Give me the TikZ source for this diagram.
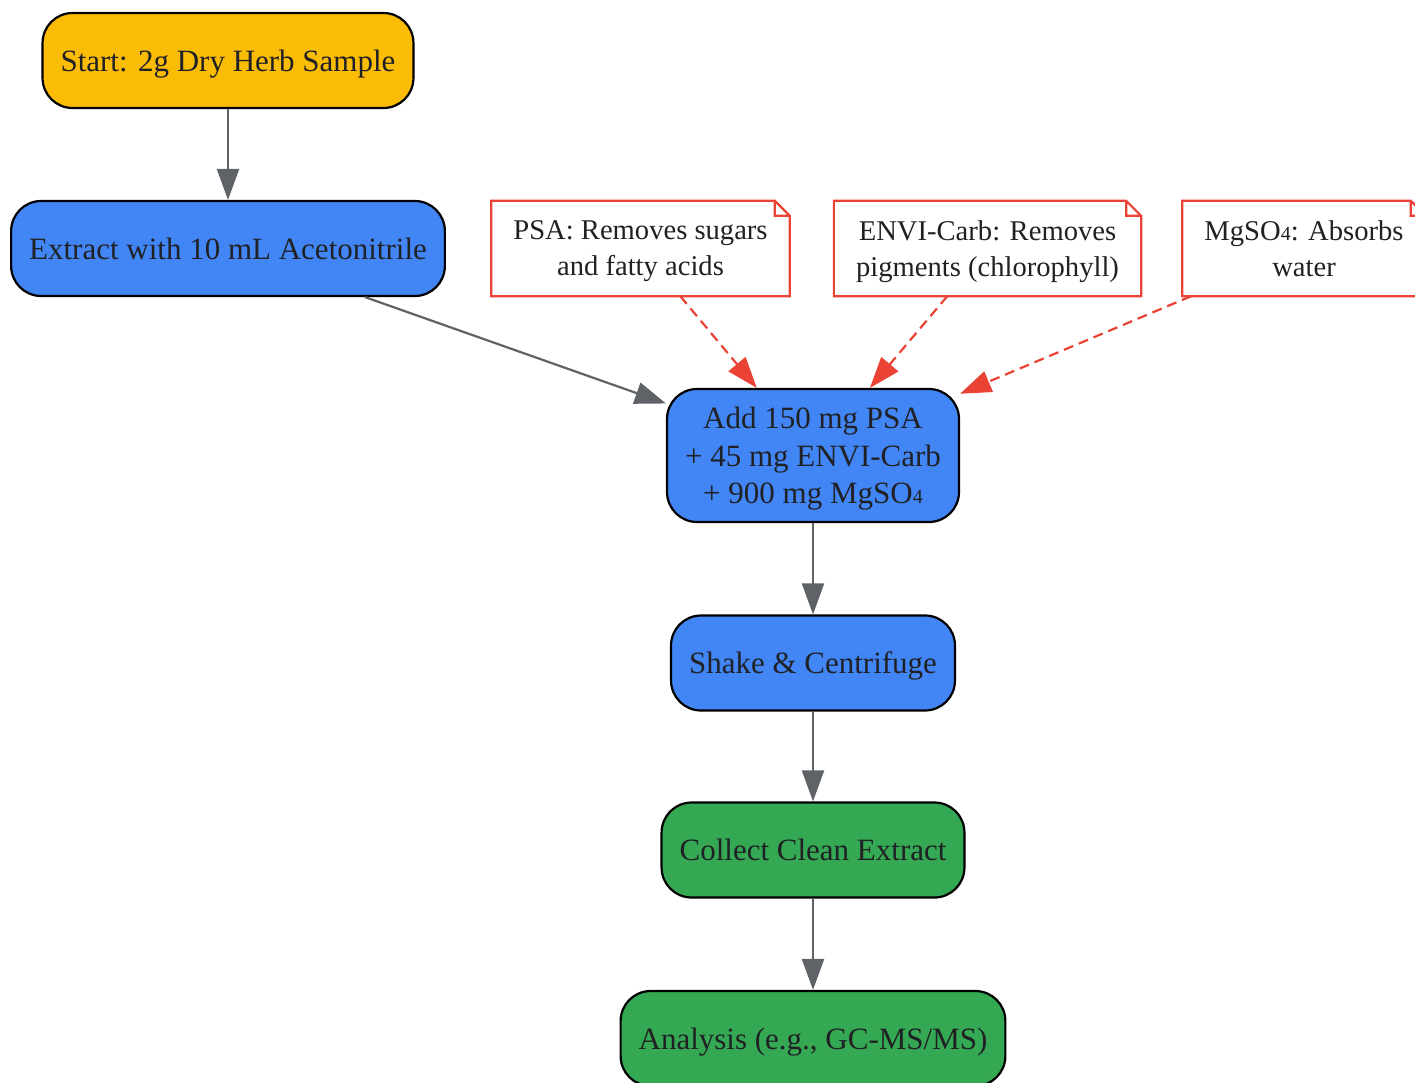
\documentclass[tikz,border=0pt]{standalone}
\usepackage{fontspec}
\setmainfont{Liberation Serif}
\usetikzlibrary{arrows.meta}

\definecolor{startyellow}{HTML}{FBBC05}
\definecolor{stepblue}{HTML}{4285F4}
\definecolor{stepgreen}{HTML}{34A853}
\definecolor{hintred}{HTML}{EA4335}
\definecolor{flowgray}{HTML}{5F6368}
\definecolor{textdark}{HTML}{202124}

\newcommand{\subfour}{{\fontsize{20}{20}\selectfont 4}}

\begin{document}
\begin{tikzpicture}[
		x=1pt, y=-1pt,
		font=\fontsize{31}{37.5}\selectfont,
		stepbox/.style={
			draw=black, line width=2.2pt, rounded corners=30pt,
			text=textdark, align=center, text depth=0pt,
			minimum height=95pt, inner xsep=18pt
		},
		notebox/.style={
			fill=white, text=textdark, align=center, text depth=0pt,
			font=\fontsize{28.6}{36}\selectfont,
			minimum height=95pt, inner xsep=22pt, inner ysep=4pt
		},
		flow/.style={
			draw=flowgray, line width=2.2pt,
			-{Triangle[length=31pt, width=22pt]}
		},
		hint/.style={
			draw=hintred, line width=2.2pt, dash pattern=on 10pt off 6pt,
			-{Triangle[length=31pt, width=22pt]}
		}
		]
		
		\useasboundingbox (0,0) rectangle (1415,1082);
		
		\path 
		(228,60.5) node [stepbox, fill=startyellow] (Start) {Start: 2g Dry Herb Sample}
		++ (0,188) node [stepbox, fill=stepblue] (Extract) {Extract with 10 mL Acetonitrile}
		++ (585,207) node [stepbox, fill=stepblue, minimum height=133pt] (Add)
		{Add 150 mg PSA\\+ 45 mg ENVI-Carb\\+ 900 mg MgSO\subfour}
		++ (0,207.5) node [stepbox, fill=stepblue] (Shake) {Shake \& Centrifuge}
		++ (0,187) node [stepbox, fill=stepgreen] (Collect) {Collect Clean Extract}
		++ (0,188.5) node [stepbox, fill=stepgreen] (Analysis) {Analysis (e.g., GC-MS/MS)};
		
		\path
		(640.5,248.5) node [notebox] (PSANote) {PSA: Removes sugars\\and fatty acids}
		++ (347,0) node [notebox] (CarbNote) {ENVI-Carb: Removes\\pigments (chlorophyll)}
		++ (316.5,0) node [notebox, minimum width=236pt] (MgNote) {MgSO\subfour: Absorbs\\water};
		
		% folded corner of the notes
		\foreach \n in {PSANote, CarbNote, MgNote} {
			\draw [hintred, line width=2.2pt, line join=miter]
			(\n.south west) -- (\n.north west) -- ([xshift=-15pt]\n.north east)
			-- ([yshift=-15pt]\n.north east) -- (\n.south east) -- cycle
			([xshift=-15pt]\n.north east) -- ([xshift=-15pt, yshift=-15pt]\n.north east)
			-- ([yshift=-15pt]\n.north east);
		}
		
		\draw [flow] (Start) -- (Extract);
		\draw [flow] (Extract) -- (Add);
		\draw [flow] (Add) -- (Shake);
		\draw [flow] (Shake) -- (Collect);
		\draw [flow] (Collect) -- (Analysis);
		
		\draw [hint] (PSANote) -- (Add);
		\draw [hint] (CarbNote) -- (Add);
		\draw [hint] (MgNote) -- (Add);
		\end{tikzpicture}
\end{document}
